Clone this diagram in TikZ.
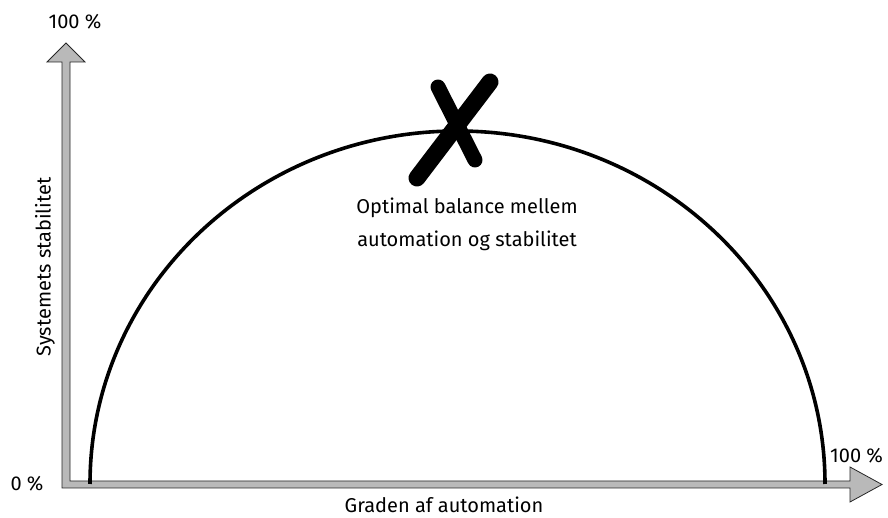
\documentclass[tikz,border=0pt]{standalone}
\usepackage{fontspec}
\setmainfont{Fira Sans}
\begin{document}
\begin{tikzpicture}[x=1pt,y=1pt,
  axisstyle/.style={fill=gray!55, draw=gray!30!black, line width=0.8pt, line join=miter},
  curvestyle/.style={line width=3.6pt, black},
  crossstroke/.style={line cap=round, black},
  lbl/.style={font=\fontsize{20}{24}\selectfont, inner sep=0pt},
  note/.style={font=\fontsize{20}{33}\selectfont, align=center, inner sep=0pt}]
\useasboundingbox (0,0) rectangle (888,518);
% axes
\draw[axisstyle] (62,30) -- (850,30) -- (850,16) -- (882,33.5) -- (850,51) -- (850,37)
  -- (70,37) -- (70,456) -- (85,456) -- (66,475) -- (47,456) -- (62,456) -- cycle;
% curve
\coordinate (cl) at (90,34);
\draw[curvestyle] (cl) arc[start angle=180, end angle=0, x radius=367.5, y radius=353];
% cross
\coordinate (x1a) at (438,431);
\coordinate (x1b) at (475,358);
\coordinate (x2a) at (490,436);
\coordinate (x2b) at (417,340);
\draw[crossstroke, line width=15pt] (x1a) -- (x1b);
\draw[crossstroke, line width=17pt] (x2a) -- (x2b);
% texts
\node[note] (opt) at (467,294) {Optimal balance mellem\\automation og stabilitet};
\node[lbl] (ytop) at (75,496) {100 \%};
\node[lbl] (zero) at (27,34) {0 \%};
\node[lbl, anchor=west] (xend) at (830,62) {100 \%};
\node[lbl] (xlab) at (444,13) {Graden af automation};
\node[lbl, rotate=90] (ylab) at (45,251) {Systemets stabilitet};
\end{tikzpicture}
\end{document}
